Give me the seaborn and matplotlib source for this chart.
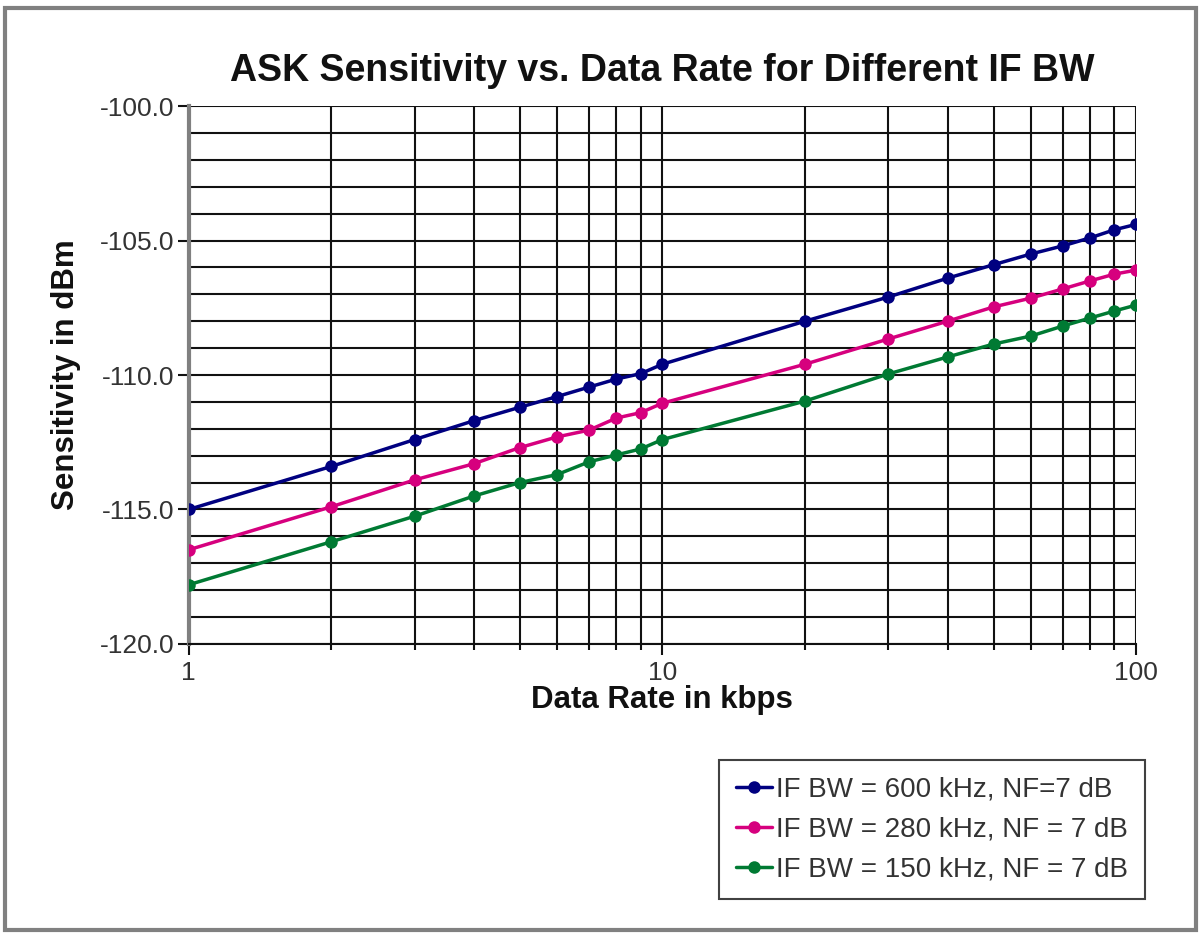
import numpy as np
import pandas as pd
from matplotlib import pyplot as plt
from matplotlib.patches import Rectangle
from matplotlib.ticker import FixedLocator, FuncFormatter, NullFormatter
import seaborn as sns

rate = [1, 2, 3, 4, 5, 6, 7, 8, 9, 10, 20, 30, 40, 50, 60, 70, 80, 90, 100]
bw600 = [-115.0, -113.4, -112.4, -111.7, -111.2, -110.8, -110.45, -110.15, -109.95,
         -109.6, -108.0, -107.1, -106.4, -105.9, -105.5, -105.2, -104.9, -104.6, -104.4]
bw280 = [-116.5, -114.9, -113.9, -113.3, -112.7, -112.3, -112.05, -111.6, -111.4,
         -111.05, -109.6, -108.66, -108.0, -107.47, -107.14, -106.8, -106.5, -106.25, -106.1]
bw150 = [-117.8, -116.2, -115.25, -114.5, -114.0, -113.7, -113.23, -112.97, -112.75,
         -112.4, -110.97, -109.96, -109.33, -108.85, -108.55, -108.18, -107.88, -107.62, -107.4]
labels = ["IF BW = 600 kHz, NF=7 dB", "IF BW = 280 kHz, NF = 7 dB", "IF BW = 150 kHz, NF = 7 dB"]
colors = ["#000080", "#d6007e", "#007a33"]

df = pd.DataFrame({
    "rate": rate * 3,
    "sens": bw600 + bw280 + bw150,
    "series": [labels[0]] * len(rate) + [labels[1]] * len(rate) + [labels[2]] * len(rate),
})

sns.set_style("white")
plt.rcParams['font.family'] = ['Liberation Sans', 'DejaVu Sans']

fig = plt.figure(figsize=(12.01, 9.34), dpi=100)
fig.patches.append(Rectangle((0.004, 0.004), 0.992, 0.987, transform=fig.transFigure,
                             fill=False, edgecolor="#808080", linewidth=3))
ax = fig.add_axes([0.157, 0.3105, 0.789, 0.576])

sns.lineplot(data=df, x="rate", y="sens", hue="series", palette=colors,
             marker="o", markersize=9, markeredgewidth=0, linewidth=2.5,
             ax=ax, legend=False, zorder=3)

ax.set_xscale("log")
ax.set_xlim(1, 100)
ax.set_ylim(-120, -100)
ax.xaxis.set_major_locator(FixedLocator([1, 10, 100]))
ax.xaxis.set_minor_locator(FixedLocator([2, 3, 4, 5, 6, 7, 8, 9, 20, 30, 40, 50, 60, 70, 80, 90]))
ax.xaxis.set_major_formatter(FuncFormatter(lambda v, p: "%g" % v))
ax.xaxis.set_minor_formatter(NullFormatter())
ax.yaxis.set_major_locator(FixedLocator(np.arange(-120, -99, 5)))
ax.yaxis.set_minor_locator(FixedLocator(np.arange(-120, -99, 1)))
ax.yaxis.set_major_formatter(FuncFormatter(lambda v, p: "%.1f" % v))
ax.grid(which="both", color="#111111", linewidth=1.5)
ax.set_axisbelow(True)
for s in ax.spines.values():
    s.set_visible(False)
ax.spines["left"].set_visible(True)
ax.spines["left"].set_color("#808080")
ax.spines["left"].set_linewidth(3)
ax.spines["bottom"].set_visible(True)
ax.spines["bottom"].set_color("#111111")
ax.spines["bottom"].set_linewidth(1.5)
ax.tick_params(axis="y", which="major", left=True, length=8, width=1.5, color="#111111",
               labelsize=19, labelcolor="#333333", pad=2)
ax.tick_params(axis="y", which="minor", left=False)
ax.tick_params(axis="x", which="major", bottom=True, length=8, width=1.5, color="#111111",
               labelsize=19, labelcolor="#333333", pad=4)
ax.tick_params(axis="x", which="minor", bottom=True, length=4, width=1.5, color="#111111")

ax.set_title("ASK Sensitivity vs. Data Rate for Different IF BW",
             fontsize=27, fontweight="bold", pad=18, color="#111111")
ax.set_xlabel("Data Rate in kbps", fontsize=22.5, fontweight="bold", labelpad=0, color="#111111")
ax.set_ylabel("Sensitivity in dBm", fontsize=22.5, fontweight="bold", labelpad=14, color="#111111")

handles = [plt.Line2D([], [], color=c, marker="o", markersize=9, markeredgewidth=0, linewidth=2.5)
           for c in colors]
leg = fig.legend(handles, labels, loc="upper left", bbox_to_anchor=(0.5987, 0.1863),
                 bbox_transform=fig.transFigure, borderaxespad=0, fontsize=20, frameon=True,
                 fancybox=False, edgecolor="#111111", handlelength=1.3, handletextpad=0.15,
                 labelspacing=0.5, borderpad=0.6)
leg.get_frame().set_linewidth(1.5)
for t in leg.get_texts():
    t.set_color("#333333")

fig.savefig("out.png", dpi=100)
